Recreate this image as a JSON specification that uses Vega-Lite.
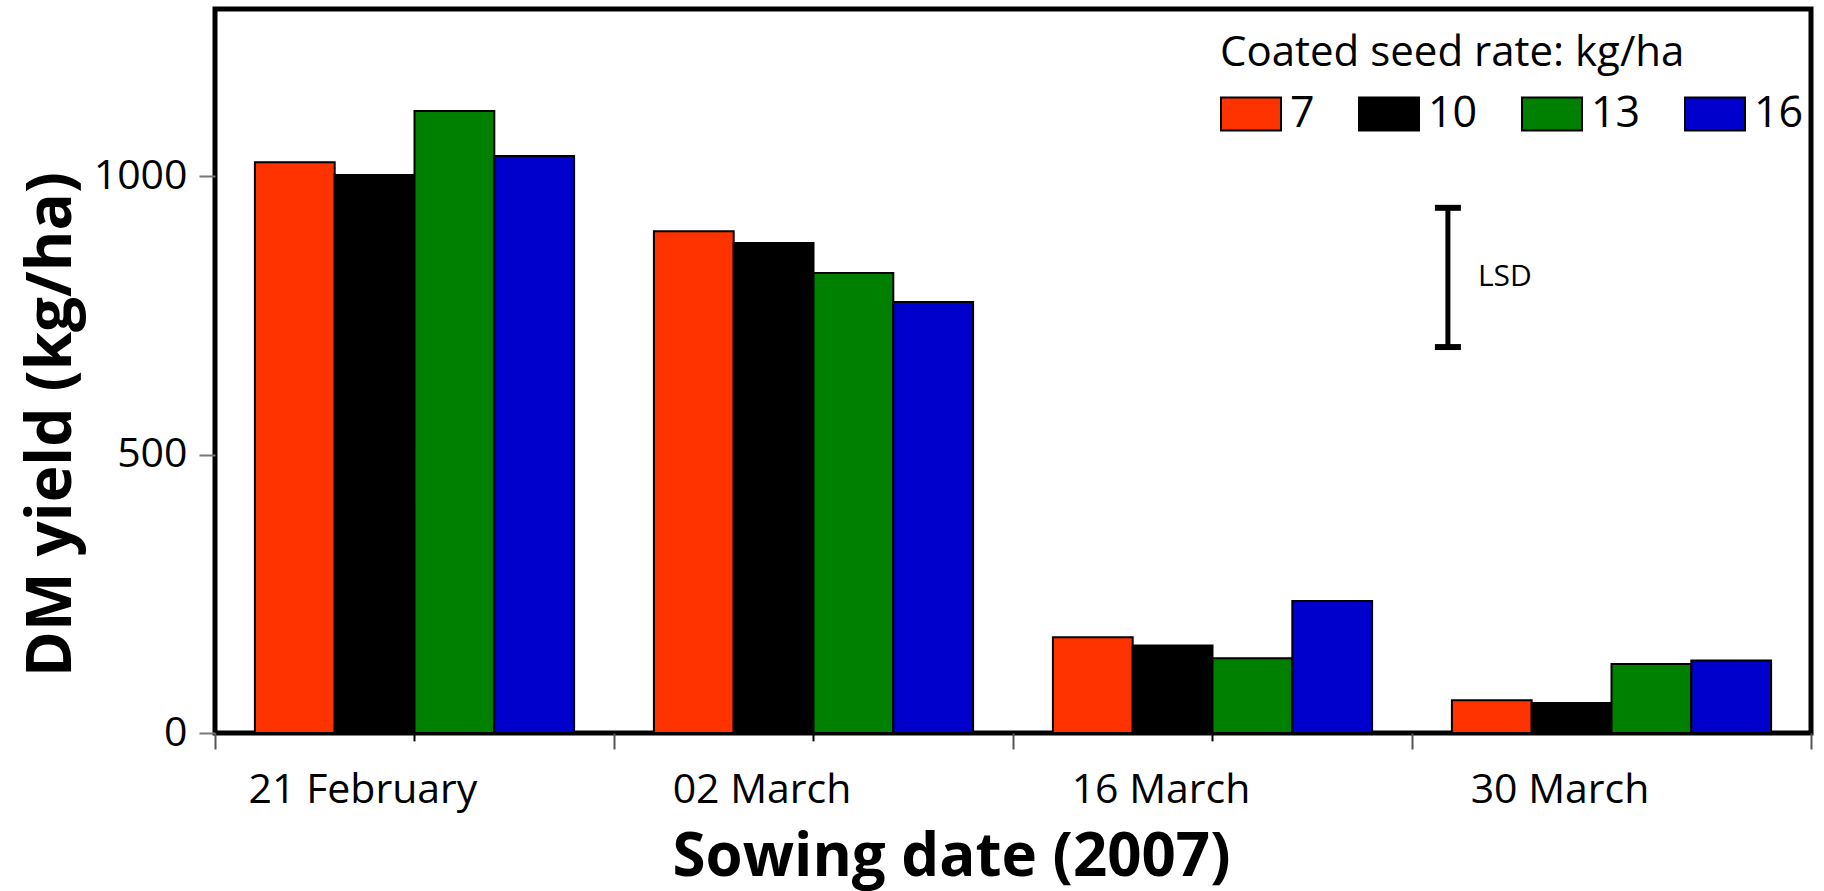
{
  "$schema": "https://vega.github.io/schema/vega-lite/v6.json",
  "autosize": {"type": "none"},
  "padding": {"left": 215, "top": 9, "right": 13, "bottom": 158},
  "width": 1596,
  "height": 724,
  "background": "white",
  "config": {
    "font": "Open Sans",
    "view": {"stroke": "black", "strokeWidth": 5},
    "axis": {"grid": false, "domain": false}
  },
  "datasets": {
    "bars": [
      {"date": "21 February", "rate": "7", "yield": 1025},
      {"date": "21 February", "rate": "10", "yield": 1002},
      {"date": "21 February", "rate": "13", "yield": 1117},
      {"date": "21 February", "rate": "16", "yield": 1036},
      {"date": "02 March", "rate": "7", "yield": 901},
      {"date": "02 March", "rate": "10", "yield": 880},
      {"date": "02 March", "rate": "13", "yield": 826},
      {"date": "02 March", "rate": "16", "yield": 774},
      {"date": "16 March", "rate": "7", "yield": 172},
      {"date": "16 March", "rate": "10", "yield": 157},
      {"date": "16 March", "rate": "13", "yield": 134},
      {"date": "16 March", "rate": "16", "yield": 237},
      {"date": "30 March", "rate": "7", "yield": 59},
      {"date": "30 March", "rate": "10", "yield": 54},
      {"date": "30 March", "rate": "13", "yield": 124},
      {"date": "30 March", "rate": "16", "yield": 130}
    ],
    "lsd": [
      {"date": "30 March", "lo": 693, "hi": 943, "mid": 818, "label": "LSD"}
    ],
    "centerticks": [
      {"date": "21 February"},
      {"date": "02 March"},
      {"date": "16 March"}
    ]
  },
  "layer": [
    {
      "data": {"name": "bars"},
      "mark": {"type": "bar", "stroke": "black", "strokeWidth": 2},
      "encoding": {
        "x": {
          "field": "date",
          "type": "nominal",
          "scale": {"domain": ["21 February", "02 March", "16 March", "30 March"], "paddingInner": 0, "paddingOuter": 0},
          "axis": {
            "title": "Sowing date (2007)",
            "titleFont": "Open Sans",
            "titleFontWeight": "bold",
            "titleFontSize": 60,
            "titleColor": "black",
            "titleX": 736,
            "titleY": 142,
            "titleBaseline": "alphabetic",
            "titleAlign": "center",
            "titleAnchor": null,
            "labelFontSize": 41,
            "labelColor": "black",
            "labelAngle": 0,
            "labelLimit": 0,
            "labelOffset": -52,
            "labelBaseline": "alphabetic",
            "labelPadding": 53,
            "tickBand": "extent",
            "tickSize": 16,
            "tickColor": "#555",
            "tickWidth": 2
          }
        },
        "xOffset": {
          "field": "rate",
          "type": "nominal",
          "scale": {"domain": ["7", "10", "13", "16"], "paddingInner": 0, "paddingOuter": 0.5}
        },
        "y": {
          "field": "yield",
          "type": "quantitative",
          "scale": {"domain": [0, 1300], "nice": false},
          "axis": {
            "title": "DM yield (kg/ha)",
            "titleFont": "Open Sans",
            "titleFontWeight": "bold",
            "titleFontSize": 62,
            "titleColor": "black",
            "titleAngle": -90,
            "titleX": -145,
            "titleY": 415,
            "titleAlign": "center",
            "titleBaseline": "alphabetic",
            "values": [0, 500, 1000],
            "format": "d",
            "labelFontSize": 41,
            "labelColor": "black",
            "labelPadding": 12,
            "tickSize": 16,
            "tickColor": "#777",
            "tickWidth": 2
          }
        },
        "color": {
          "field": "rate",
          "type": "nominal",
          "scale": {
            "domain": ["7", "10", "13", "16"],
            "range": ["#FF3300", "#000000", "#008000", "#0000CC"]
          },
          "legend": {
            "title": "Coated seed rate: kg/ha",
            "orient": "none",
            "direction": "horizontal",
            "legendX": 1005,
            "legendY": 24,
            "padding": 0,
            "titleFont": "Open Sans",
            "titleFontWeight": "normal",
            "titleFontSize": 42,
            "titleColor": "black",
            "titleLimit": 0,
            "titlePadding": 8,
            "labelFontSize": 43,
            "labelColor": "black",
            "labelLimit": 0,
            "labelOffset": 8,
            "columnPadding": 40,
            "symbolType": "M-1,-0.55H1V0.55H-1Z",
            "symbolSize": 3600,
            "symbolStrokeColor": "black",
            "symbolStrokeWidth": 2,
            "symbolOpacity": 1
          }
        }
      }
    },
    {
      "data": {"name": "centerticks"},
      "mark": {"type": "rule", "strokeWidth": 2, "color": "black"},
      "encoding": {
        "x": {"field": "date", "type": "nominal"},
        "y": {"datum": 0},
        "y2": {"datum": -15}
      }
    },
    {
      "data": {"name": "lsd"},
      "mark": {"type": "rule", "strokeWidth": 5, "color": "black"},
      "encoding": {
        "x": {"field": "date", "type": "nominal", "bandPosition": 0.09},
        "y": {"field": "lo", "type": "quantitative"},
        "y2": {"field": "hi"}
      }
    },
    {
      "data": {"name": "lsd"},
      "mark": {"type": "point", "shape": "M-1,-0.23H1V0.23H-1Z", "size": 676, "filled": true, "color": "black", "opacity": 1},
      "encoding": {
        "x": {"field": "date", "type": "nominal", "bandPosition": 0.09},
        "y": {"field": "lo", "type": "quantitative"}
      }
    },
    {
      "data": {"name": "lsd"},
      "mark": {"type": "point", "shape": "M-1,-0.23H1V0.23H-1Z", "size": 676, "filled": true, "color": "black", "opacity": 1},
      "encoding": {
        "x": {"field": "date", "type": "nominal", "bandPosition": 0.09},
        "y": {"field": "hi", "type": "quantitative"}
      }
    },
    {
      "data": {"name": "lsd"},
      "mark": {"type": "text", "align": "left", "baseline": "middle", "dx": 30, "fontSize": 30, "color": "black"},
      "encoding": {
        "x": {"field": "date", "type": "nominal", "bandPosition": 0.09},
        "y": {"field": "mid", "type": "quantitative"},
        "text": {"field": "label"}
      }
    }
  ]
}
